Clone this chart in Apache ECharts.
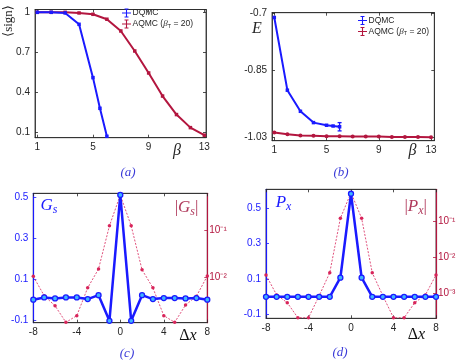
<!DOCTYPE html>
<html><head><meta charset="utf-8">
<script src="https://cdn.jsdelivr.net/npm/echarts@6/dist/echarts.min.js"></script>
<style>html,body{margin:0;padding:0;background:#fff}#c{width:463px;height:362px}</style>
</head><body><div id="c"></div>
<script>
// ---------- data ----------
const dqmcBeta = [1, 2, 3, 4, 5, 5.5, 6];
const aqmcBeta = [1, 2, 3, 4, 5, 6, 7, 8, 9, 10, 11, 12, 13];
const signDQMC = [1.0, 1.0, 0.995, 0.91, 0.51, 0.28, 0.07];
const signAQMC = [1.0, 1.0, 1.0, 0.995, 0.985, 0.948, 0.86, 0.71, 0.545, 0.372, 0.233, 0.135, 0.078];
const energyDQMC = [-0.711, -0.904, -0.96, -0.99, -0.997, -0.999, -1.001];
const energyDQMCErr = [0, 0, 0, 0, 0, 0, 0.011];
const energyAQMC = [-1.016, -1.021, -1.024, -1.025, -1.026, -1.026, -1.027, -1.027, -1.027, -1.028, -1.028, -1.028, -1.029];
const dx = [-8, -7, -6, -5, -4, -3, -2, -1, 0, 1, 2, 3, 4, 5, 6, 7, 8];
const gs = [0, 0.011, 0.006, 0.011, 0.011, 0.003, 0.022, -0.103, 0.51, -0.103, 0.022, 0.003, 0.008, 0.008, 0.006, 0.008, 0];
const gsAbs = [0.0105, 0.0041, 0.0025, 0.00112, 0.00155, 0.006, 0.0151, 0.123, 0.55, 0.123, 0.0145, 0.006, 0.00155, 0.00112, 0.0026, 0.004, 0.0107];
const px = [0, 0, 0, 0, 0, 0, 0, 0.108, 0.582, 0.108, 0, 0, 0, 0, 0, 0, 0];
const pxAbs = [0.0032, 0.0009, 0.00055, 0.00021, 0.00021, 0.00085, 0.0037, 0.119, 0.607, 0.119, 0.0037, 0.00085, 0.00021, 0.00021, 0.00055, 0.0009, 0.0032];
const betaTicks = [1, 5, 9, 13];
const signTicks = [0.1, 0.4, 0.7, 1];
const energyTicks = [-1.03, -0.85, -0.7];
const dxTicks = [-8, -4, 0, 4, 8];
const gsTicks = [-0.1, 0.1, 0.3, 0.5];
const pxTicks = [-0.1, 0.1, 0.3, 0.5];
const gsLogTicks = [0.01, 0.1];
const pxLogTicks = [0.001, 0.01, 0.1];

// ---------- style ----------
const BLUE = '#1a1aff';
const RED = '#b3163f';
const PINK = '#d8245a';
const DARK = '#262626';
const SANS = '"Liberation Sans", Arial, sans-serif';
const SERIF = '"Liberation Serif", "DejaVu Serif", serif';
const FS = 10;

function xAx(grid, min, max, ticks, pos, labels) {
  return {
    type: 'value', gridIndex: grid, min: min, max: max, position: pos,
    axisLine: { show: true, onZero: false, lineStyle: { color: DARK, width: 0.8 } },
    axisTick: { show: true, inside: true, length: 3, customValues: ticks, lineStyle: { color: DARK, width: 0.8 } },
    axisLabel: { show: labels, customValues: ticks, margin: 5, color: DARK, fontSize: FS, fontFamily: SANS },
    splitLine: { show: false }
  };
}
function yAx(grid, min, max, ticks, pos, labels, color, fmt) {
  const a = {
    type: 'value', gridIndex: grid, min: min, max: max, position: pos,
    axisLine: { show: true, onZero: false, lineStyle: { color: color || DARK, width: color ? 1.2 : 0.8 } },
    axisTick: { show: true, inside: true, length: 3, customValues: ticks, lineStyle: { color: color || DARK, width: 0.8 } },
    axisLabel: { show: labels, customValues: ticks, margin: 5, color: color || DARK, fontSize: FS, fontFamily: SANS },
    splitLine: { show: false }
  };
  if (fmt) a.axisLabel.formatter = fmt;
  return a;
}
function logAx(grid, min, max, ticks) {
  const sup = { '-1': '⁻¹', '-2': '⁻²', '-3': '⁻³' };
  return {
    type: 'log', logBase: 10, gridIndex: grid, min: min, max: max, position: 'right',
    axisLine: { show: true, onZero: false, lineStyle: { color: RED, width: 1.2 } },
    axisTick: { show: true, inside: true, length: 3, customValues: ticks, lineStyle: { color: RED, width: 0.8 } },
    minorTick: { show: false },
    axisLabel: { show: true, customValues: ticks, margin: 2, color: RED, fontSize: FS, fontFamily: SANS,
      formatter: v => '10' + sup[String(Math.round(Math.log10(v)))] },
    splitLine: { show: false }
  };
}

const xMinA = 0.835, xMaxA = 13.12, yMinA = 0.0595, yMaxA = 1.021;
const xMinB = 0.824, xMaxB = 13.25, yMinB = -1.038, yMaxB = -0.6984;
const yMinC = -0.112, yMaxC = 0.518, lMinC = 0.0011, lMaxC = 0.6;
const yMinD = -0.121, yMaxD = 0.607, lMinD = 0.000203, lMaxD = 0.753;

const errIcon = 'path://M0,4.5h10v1h-10z M4.4,0h1.2v10h-1.2z M2.8,0h4.4v1h-4.4z M2.8,9h4.4v1h-4.4z';

const legendRich = {
  i: { fontFamily: SERIF, fontStyle: 'italic', fontSize: 9, color: DARK, lineHeight: 10, verticalAlign: 'middle' },
  s: { fontFamily: SANS, fontSize: 5.5, color: DARK, lineHeight: 10, verticalAlign: 'bottom' },
  n: { fontFamily: SANS, fontSize: 8.5, color: DARK, lineHeight: 10, verticalAlign: 'middle' }
};
const legendFmt = name => name === 'AQMC' ? '{n|AQMC (}{i|β}{s|T}{n| = 20)}' : '{n|' + name + '}';
function legend(left, top) {
  return {
    left: left, top: top, orient: 'vertical', padding: 0, itemGap: 2, itemWidth: 10, itemHeight: 9,
    data: [{ name: 'DQMC', icon: errIcon }, { name: 'AQMC', icon: errIcon }],
    formatter: legendFmt, selectedMode: false,
    textStyle: { fontSize: 8.5, fontFamily: SANS, color: DARK, padding: [0, 0, 0, -4], rich: legendRich }
  };
}

const txt = (x, y, text, rich, extra) => Object.assign({
  type: 'text', x: x, y: y, silent: true,
  style: { text: text, rich: rich, align: 'center', verticalAlign: 'middle', textAlign: 'center', textVerticalAlign: 'middle' }
}, extra || {});
const captionRich = { c: { fontFamily: SERIF, fontStyle: 'italic', fontSize: 13, fill: '#3a3ad8', color: '#3a3ad8' } };
const mathRich = (col, size) => ({
  i: { fontFamily: SERIF, fontStyle: 'italic', fontSize: size, color: col, fill: col },
  n: { fontFamily: SERIF, fontSize: size, color: col, fill: col },
  s: { fontFamily: SERIF, fontStyle: 'italic', fontSize: size * 0.7, color: col, fill: col, padding: [size * 0.45, 0, 0, 0] }
});

const chart = echarts.init(document.getElementById('c'), null, { renderer: 'canvas' });
chart.setOption({
  animation: false,
  backgroundColor: '#fff',
  grid: [
    { left: 35, top: 9.5, width: 171, height: 128.2, show: true, borderColor: DARK, borderWidth: 0.8 },
    { left: 272, top: 12.7, width: 162.3, height: 128, show: true, borderColor: DARK, borderWidth: 0.8 },
    { left: 33.3, top: 193.3, width: 174, height: 129.4, show: true, borderColor: DARK, borderWidth: 0.8 },
    { left: 266, top: 189.3, width: 170, height: 129, show: true, borderColor: DARK, borderWidth: 0.8 }
  ],
  xAxis: [
    xAx(0, xMinA, xMaxA, betaTicks, 'bottom', true),
    xAx(0, xMinA, xMaxA, betaTicks, 'top', false),
    xAx(1, xMinB, xMaxB, betaTicks, 'bottom', true),
    xAx(1, xMinB, xMaxB, betaTicks, 'top', false),
    xAx(2, -8, 8, dxTicks, 'bottom', true),
    xAx(2, -8, 8, dxTicks, 'top', false),
    xAx(3, -8, 8, dxTicks, 'bottom', true),
    xAx(3, -8, 8, dxTicks, 'top', false)
  ],
  yAxis: [
    yAx(0, yMinA, yMaxA, signTicks, 'left', true),
    yAx(0, yMinA, yMaxA, signTicks, 'right', false),
    yAx(1, yMinB, yMaxB, energyTicks, 'left', true),
    yAx(1, yMinB, yMaxB, energyTicks, 'right', false),
    yAx(2, yMinC, yMaxC, gsTicks, 'left', true, BLUE),
    logAx(2, lMinC, lMaxC, gsLogTicks),
    yAx(3, yMinD, yMaxD, pxTicks, 'left', true, BLUE),
    logAx(3, lMinD, lMaxD, pxLogTicks)
  ],
  legend: [legend(122, 8.5), legend(358, 16)],
  series: [
    { name: 'AQMC', type: 'line', xAxisIndex: 0, yAxisIndex: 0, data: aqmcBeta.map((b, i) => [b, signAQMC[i]]),
      color: RED, lineStyle: { width: 2, color: RED }, symbol: 'rect', symbolSize: 3.5, itemStyle: { color: RED } },
    { name: 'DQMC', type: 'line', xAxisIndex: 0, yAxisIndex: 0, data: dqmcBeta.map((b, i) => [b, signDQMC[i]]),
      color: BLUE, lineStyle: { width: 2, color: BLUE }, symbol: 'rect', symbolSize: 3.5, itemStyle: { color: BLUE } },
    { name: 'DQMC', type: 'line', xAxisIndex: 2, yAxisIndex: 2, data: dqmcBeta.map((b, i) => [b, energyDQMC[i]]),
      color: BLUE, lineStyle: { width: 2, color: BLUE }, symbol: 'rect', symbolSize: 3.5, itemStyle: { color: BLUE } },
    { name: 'DQMC-err', type: 'custom', xAxisIndex: 2, yAxisIndex: 2, silent: true,
      data: dqmcBeta.map((b, i) => [b, energyDQMC[i], energyDQMCErr[i]]),
      renderItem: function (params, api) {
        const x = api.value(0), y = api.value(1), e = api.value(2);
        if (!e) return null;
        const t = api.coord([x, y + e]), b = api.coord([x, y - e]);
        const st = { stroke: BLUE, lineWidth: 1.3 };
        return { type: 'group', children: [
          { type: 'line', shape: { x1: t[0], y1: t[1], x2: b[0], y2: b[1] }, style: st },
          { type: 'line', shape: { x1: t[0] - 2, y1: t[1], x2: t[0] + 2, y2: t[1] }, style: st },
          { type: 'line', shape: { x1: b[0] - 2, y1: b[1], x2: b[0] + 2, y2: b[1] }, style: st }
        ] };
      } },
    { name: 'AQMC', type: 'line', xAxisIndex: 2, yAxisIndex: 2, data: aqmcBeta.map((b, i) => [b, energyAQMC[i]]),
      color: RED, lineStyle: { width: 2, color: RED }, symbol: 'circle', symbolSize: 4, itemStyle: { color: RED } },
    { name: '|Gs|', type: 'line', xAxisIndex: 4, yAxisIndex: 5, data: dx.map((d, i) => [d, gsAbs[i]]),
      lineStyle: { width: 0.8, color: PINK, type: [2, 1.5] }, symbol: 'circle', symbolSize: 3.5, itemStyle: { color: PINK } },
    { name: 'Gs', type: 'line', xAxisIndex: 4, yAxisIndex: 4, data: dx.map((d, i) => [d, gs[i]]),
      lineStyle: { width: 2.5, color: BLUE }, symbol: 'circle', symbolSize: 5,
      itemStyle: { color: '#3fb4ff', borderColor: BLUE, borderWidth: 1.3 } },
    { name: '|Px|', type: 'line', xAxisIndex: 6, yAxisIndex: 7, data: dx.map((d, i) => [d, pxAbs[i]]),
      lineStyle: { width: 0.8, color: PINK, type: [2, 1.5] }, symbol: 'circle', symbolSize: 3.5, itemStyle: { color: PINK } },
    { name: 'Px', type: 'line', xAxisIndex: 6, yAxisIndex: 6, data: dx.map((d, i) => [d, px[i]]),
      lineStyle: { width: 2.5, color: BLUE }, symbol: 'circle', symbolSize: 5,
      itemStyle: { color: '#3fb4ff', borderColor: BLUE, borderWidth: 1.3 } }
  ],
  graphic: [
    txt(9, 21, '{n|⟨sign⟩}', { n: { fontFamily: SERIF, fontSize: 13, fill: DARK, color: DARK } }, { rotation: Math.PI / 2 }),
    txt(177, 151, '{i|β}', mathRich(DARK, 16)),
    txt(257, 29, '{i|E}', mathRich(DARK, 16)),
    txt(412.5, 151, '{i|β}', mathRich(DARK, 16)),
    txt(128, 173, '{c|(a)}', captionRich),
    txt(341, 173, '{c|(b)}', captionRich),
    txt(127, 354, '{c|(c)}', captionRich),
    txt(340, 353, '{c|(d)}', captionRich),
    txt(188, 336, '{n|Δ}{i|x}', mathRich('#111', 16)),
    txt(416.5, 334.5, '{n|Δ}{i|x}', mathRich('#111', 16)),
    txt(49, 206, '{i|G}{s|s}', mathRich(BLUE, 17)),
    txt(186.5, 208, '{n||}{i|G}{s|s}{n||}', mathRich('#b03a5c', 17)),
    txt(283.5, 203, '{i|P}{s|x}', mathRich(BLUE, 17)),
    txt(415.7, 207, '{n||}{i|P}{s|x}{n||}', mathRich('#b03a5c', 17))
  ]
});
</script></body></html>
